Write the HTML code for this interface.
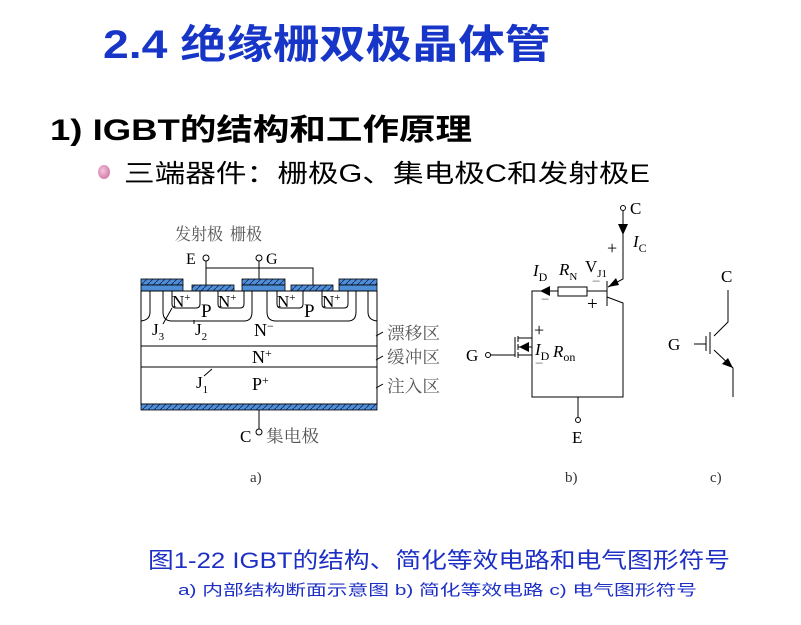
<!DOCTYPE html>
<html><head><meta charset="utf-8">
<style>
html,body{margin:0;padding:0;background:#fff;}
svg{display:block;}
.s{font-family:"Liberation Serif","Noto Serif CJK SC",serif;}
.cj{font-family:"Liberation Sans","Noto Sans CJK SC",sans-serif;}
</style></head><body>
<svg width="801" height="625" viewBox="0 0 801 625" xmlns="http://www.w3.org/2000/svg">
<defs>
<pattern id="hatch" width="6" height="6" patternUnits="userSpaceOnUse">
<rect width="6" height="6" fill="#4f8fd8"/>
<path d="M0 6 L6 0" stroke="#1a2a60" stroke-width="0.9"/>
</pattern>
<pattern id="dots" width="5" height="6" patternUnits="userSpaceOnUse">
<rect width="5" height="6" fill="#4f8fd8"/>
<circle cx="2.5" cy="3" r="0.6" fill="#1a2a60"/>
</pattern>
<radialGradient id="ball" cx="40%" cy="40%" r="60%"><stop offset="0" stop-color="#f4c4dc"/><stop offset="1" stop-color="#d67fab"/></radialGradient>
</defs>

<text x="103" y="58" class="cj" font-size="40" font-weight="bold" fill="#1736c8" textLength="448" lengthAdjust="spacingAndGlyphs">2.4 绝缘栅双极晶体管</text>
<text x="50" y="140" class="cj" font-size="30" font-weight="bold" fill="#000" textLength="422" lengthAdjust="spacingAndGlyphs">1)  IGBT的结构和工作原理</text>
<ellipse cx="104" cy="172" rx="6" ry="7" fill="url(#ball)"/>
<text x="124" y="182" class="cj" font-size="25" fill="#000" textLength="526" lengthAdjust="spacingAndGlyphs">三端器件：栅极G、集电极C和发射极E</text>

<g class="s" fill="#000">
<text x="175" y="240" font-size="17" fill="#555" textLength="48" lengthAdjust="spacingAndGlyphs">发射极</text>
<text x="230" y="240" font-size="17" fill="#555" textLength="32" lengthAdjust="spacingAndGlyphs">栅极</text>
<text x="186" y="264" font-size="16">E</text>
<text x="266" y="264" font-size="16">G</text>
</g>
<g stroke="#000" stroke-width="1" fill="none">
<circle cx="206" cy="258" r="3" fill="#fff"/>
<circle cx="259" cy="258" r="3" fill="#fff"/>
<path d="M206 261 V285 M206 268 H313 V285 M259 261 V279"/>
</g>
<g stroke="#000" stroke-width="0.8">
<rect x="141" y="279" width="42" height="6" fill="url(#hatch)"/><rect x="141" y="285" width="42" height="6" fill="url(#dots)"/>
<rect x="242" y="279" width="43" height="6" fill="url(#hatch)"/><rect x="242" y="285" width="43" height="6" fill="url(#dots)"/>
<rect x="339" y="279" width="38" height="6" fill="url(#hatch)"/><rect x="339" y="285" width="38" height="6" fill="url(#dots)"/>
<rect x="192" y="285" width="42" height="6" fill="url(#hatch)"/>
<rect x="291" y="285" width="42" height="6" fill="url(#hatch)"/>
</g>
<g stroke="#000" stroke-width="1" fill="none">
<rect x="141" y="291" width="236" height="113"/>
<path d="M141 346 H377 M141 367 H377"/>
<path d="M150 291 V312 Q150 320 141 321"/>
<path d="M163 291 V312 Q163 321 172 321 H244 Q252 321 252 312 V291"/>
<path d="M267 291 V312 Q267 321 276 321 H348 Q356 321 356 312 V291"/>
<path d="M368 291 V312 Q368 320 377 321"/>
<path d="M172 291 V304 Q172 308 176 308 H196 Q200 308 200 304 V291"/>
<path d="M218 291 V304 Q218 308 222 308 H240 Q244 308 244 304 V291"/>
<path d="M277 291 V304 Q277 308 281 308 H299 Q303 308 303 304 V291"/>
<path d="M322 291 V304 Q322 308 326 308 H344 Q348 308 348 304 V291"/>
<path d="M172 308 L163 324 M194 320 V324 M212 369 L204 376"/>
<path d="M376 336 L383 332 M376 360 L383 356 M376 388 L383 384"/>
<line x1="259" y1="410" x2="259" y2="429"/>
<circle cx="259" cy="432" r="3" fill="#fff"/>
</g>
<rect x="141" y="404" width="236" height="6" fill="url(#hatch)" stroke="#000" stroke-width="0.8"/>
<g class="s" fill="#000">
<text x="172" y="307" font-size="17">N<tspan font-size="11" dy="-6">+</tspan></text>
<text x="218" y="307" font-size="17">N<tspan font-size="11" dy="-6">+</tspan></text>
<text x="277" y="307" font-size="17">N<tspan font-size="11" dy="-6">+</tspan></text>
<text x="322" y="307" font-size="17">N<tspan font-size="11" dy="-6">+</tspan></text>
<text x="201" y="317" font-size="19">P</text>
<text x="304" y="317" font-size="19">P</text>
<text x="152" y="335" font-size="17">J<tspan font-size="11" dy="5">3</tspan></text>
<text x="195" y="335" font-size="17">J<tspan font-size="11" dy="5">2</tspan></text>
<text x="196" y="388" font-size="17">J<tspan font-size="11" dy="5">1</tspan></text>
<text x="254" y="336" font-size="18">N<tspan font-size="12" dy="-6">−</tspan></text>
<text x="252" y="363" font-size="18">N<tspan font-size="12" dy="-6">+</tspan></text>
<text x="252" y="390" font-size="18">P<tspan font-size="12" dy="-6">+</tspan></text>
<text x="387" y="339" font-size="17" fill="#555" textLength="53" lengthAdjust="spacingAndGlyphs">漂移区</text>
<text x="387" y="363" font-size="17" fill="#555" textLength="53" lengthAdjust="spacingAndGlyphs">缓冲区</text>
<text x="387" y="392" font-size="17" fill="#555" textLength="53" lengthAdjust="spacingAndGlyphs">注入区</text>
<text x="240" y="442" font-size="17">C</text>
<text x="266" y="442" font-size="17" fill="#555" textLength="53" lengthAdjust="spacingAndGlyphs">集电极</text>
<text x="250" y="482" font-size="15" fill="#333">a)</text>
</g>

<g stroke="#000" stroke-width="1" fill="none">
<circle cx="623" cy="208" r="2.5" fill="#fff"/>
<path d="M623 211 V279 L608 287"/>
<path d="M607 281 V306 M607 297 L623 303 V397 H532 V291 H558 M587 291 H607"/>
<rect x="558" y="287" width="29" height="9" fill="#fff"/>
<path d="M515 337 V357 M490 355 H515"/>
<path d="M518 336 V342 M518 344 V350 M518 352 V358"/>
<path d="M518 338 H532 M518 355 H532 M518 347 H532"/>
<line x1="578" y1="397" x2="578" y2="417"/>
<circle cx="578" cy="420" r="2.5" fill="#fff"/>
<circle cx="488" cy="355" r="2.5" fill="#fff"/>
</g>
<g fill="#000">
<path d="M618 224 L628 224 L623 235 Z"/>
<path d="M608 287 L616 278 L619 285 Z"/>
<path d="M540 291 L550 286 L550 296 Z"/>
<path d="M519 347 L529 342 L529 352 Z"/>
</g>
<g class="s" fill="#000">
<text x="630" y="214" font-size="17">C</text>
<text x="633" y="247" font-size="17" font-style="italic">I<tspan font-style="normal" font-size="12" dy="5">C</tspan></text>
<text x="607" y="254" font-size="18">+</text>
<text x="585" y="272" font-size="17">V<tspan font-size="11" dy="5">J1</tspan></text>
<text x="533" y="276" font-size="17" font-style="italic">I<tspan font-style="normal" font-size="12" dy="5">D</tspan></text>
<text x="559" y="275" font-size="17" font-style="italic">R<tspan font-style="normal" font-size="11" dy="5">N</tspan></text>
<text x="592" y="286" font-size="15" fill="#666">−</text>
<text x="541" y="304" font-size="15" fill="#666">−</text>
<text x="587" y="310" font-size="19">+</text>
<text x="534" y="336" font-size="18">+</text>
<text x="535" y="355" font-size="17" font-style="italic">I<tspan font-style="normal" font-size="12" dy="5">D</tspan></text>
<text x="553" y="357" font-size="17" font-style="italic">R<tspan font-style="normal" font-size="12" dy="4">on</tspan></text>
<text x="535" y="368" font-size="15" fill="#666">−</text>
<text x="466" y="361" font-size="17">G</text>
<text x="572" y="443" font-size="17">E</text>
<text x="565" y="482" font-size="15" fill="#333">b)</text>
</g>

<g stroke="#000" stroke-width="1" fill="none">
<path d="M728 290 V322 L714 336"/>
<path d="M710 332 V354 M706 336 V351 M694 344 H706"/>
<path d="M714 350 L733 368 V397"/>
</g>
<path d="M733 368 L722 364 L728 358 Z" fill="#000"/>
<g class="s" fill="#000">
<text x="721" y="282" font-size="17">C</text>
<text x="668" y="350" font-size="17">G</text>
<text x="710" y="482" font-size="15" fill="#333">c)</text>
</g>

<text x="148" y="568" class="cj" font-size="22" fill="#1d2fc4" textLength="582" lengthAdjust="spacingAndGlyphs">图1-22  IGBT的结构、简化等效电路和电气图形符号</text>
<text x="178" y="595" class="cj" font-size="15" fill="#1d2fc4" textLength="519" lengthAdjust="spacingAndGlyphs">a) 内部结构断面示意图   b) 简化等效电路   c) 电气图形符号</text>
</svg>
</body></html>
